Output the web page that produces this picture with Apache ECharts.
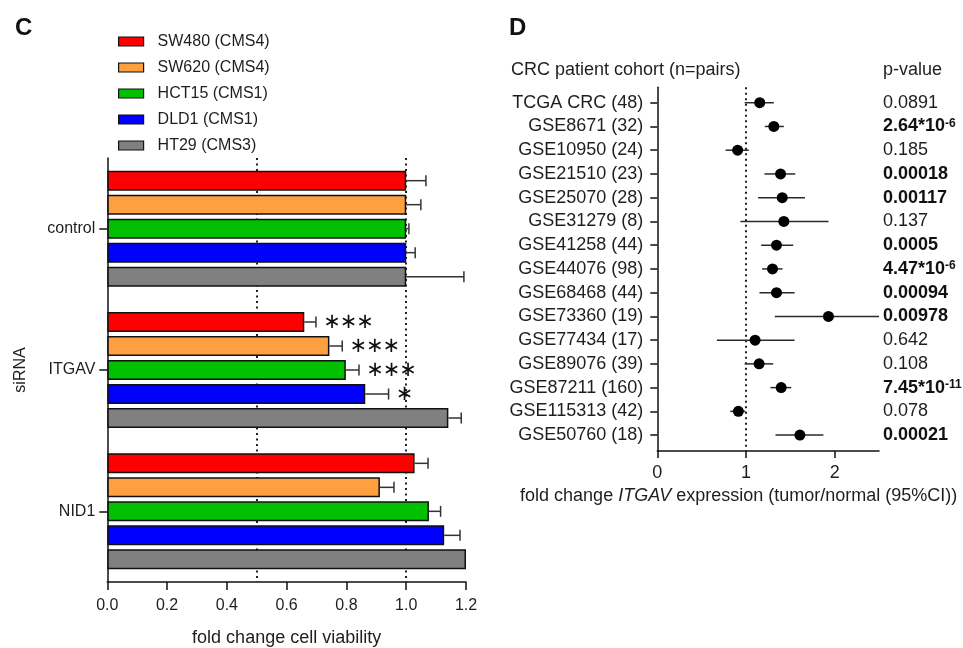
<!DOCTYPE html>
<html>
<head>
<meta charset="utf-8">
<script src="https://cdn.jsdelivr.net/npm/echarts@6/dist/echarts.min.js"></script>
<style>
  html, body { margin: 0; padding: 0; background: #ffffff; }
  #chart { width: 963px; height: 648px; }
</style>
</head>
<body>
<div id="chart"></div>
<script>
// ---- Panel C: cell viability after siRNA knockdown ----
const sirnaGroups = ['control', 'ITGAV', 'NID1'];
const cellLines = ['SW480 (CMS4)', 'SW620 (CMS4)', 'HCT15 (CMS1)', 'DLD1 (CMS1)', 'HT29 (CMS3)'];
const cellColors = ['#ff0000', '#ffa040', '#00c000', '#0000ff', '#808080'];

const viabilitySW480 = [1.0, 0.659, 1.028];
const viabilitySW620 = [1.0, 0.743, 0.912];
const viabilityHCT15 = [1.0, 0.798, 1.076];
const viabilityDLD1 = [1.0, 0.863, 1.127];
const viabilityHT29 = [1.0, 1.141, 1.2];

// upper end of each error bar
const errorTopSW480 = [1.066, 0.698, 1.073];
const errorTopSW620 = [1.049, 0.786, 0.959];
const errorTopHCT15 = [1.009, 0.842, 1.115];
const errorTopDLD1 = [1.030, 0.941, 1.180];
const errorTopHT29 = [1.193, 1.184, null];

// significance versus control
const sigSW480 = ['', '***', ''];
const sigSW620 = ['', '***', ''];
const sigHCT15 = ['', '***', ''];
const sigDLD1 = ['', '*', ''];
const sigHT29 = ['', '', ''];

const viabilityTicks = [0, 0.2, 0.4, 0.6, 0.8, 1.0, 1.2];
const viabilityRefLines = [0.5, 1.0];

// ---- Panel D: ITGAV expression in CRC patient cohorts ----
const cohorts = [
  'TCGA CRC (48)', 'GSE8671 (32)', 'GSE10950 (24)', 'GSE21510 (23)', 'GSE25070 (28)',
  'GSE31279 (8)', 'GSE41258 (44)', 'GSE44076 (98)', 'GSE68468 (44)', 'GSE73360 (19)',
  'GSE77434 (17)', 'GSE89076 (39)', 'GSE87211 (160)', 'GSE115313 (42)', 'GSE50760 (18)'
];
const foldChange = [1.155, 1.314, 0.906, 1.390, 1.409, 1.427, 1.344, 1.299, 1.344, 1.930, 1.103, 1.148, 1.397, 0.914, 1.608];
const ciLower = [0.985, 1.212, 0.770, 1.208, 1.137, 0.937, 1.171, 1.182, 1.152, 1.325, 0.672, 0.985, 1.276, 0.823, 1.333];
const ciUpper = [1.314, 1.427, 1.031, 1.556, 1.665, 1.930, 1.533, 1.412, 1.548, 2.5, 1.548, 1.307, 1.511, 0.993, 1.873];
const pValues = ['0.0891', '2.64*10^-6', '0.185', '0.00018', '0.00117', '0.137', '0.0005', '4.47*10^-6',
  '0.00094', '0.00978', '0.642', '0.108', '7.45*10^-11', '0.078', '0.00021'];
const pSignificant = [false, true, false, true, true, false, true, true, true, true, false, false, true, false, true];

const expressionTicks = [0, 1, 2];
const expressionMax = 2.5;
const expressionRefLine = 1;

// ---- shared styling ----
const FONT = "'Liberation Sans', Arial, Helvetica, sans-serif";
const INK = '#1e1e1e';
const BAR_W = 20;
const BAR_PITCH = 24;
const STAR_PITCH = 16.5;

const viability = [viabilitySW480, viabilitySW620, viabilityHCT15, viabilityDLD1, viabilityHT29];
const errorTop = [errorTopSW480, errorTopSW620, errorTopHCT15, errorTopDLD1, errorTopHT29];
const significance = [sigSW480, sigSW620, sigHCT15, sigDLD1, sigHT29];

function errorBarRenderer(slot) {
  return function (params, api) {
    const top = api.value(1);
    const cat = api.value(2);
    const base = api.coord([api.value(0), cat]);
    const y = base[1] + (slot - (cellLines.length - 1) / 2) * BAR_PITCH;
    const children = [];
    let labelX = base[0];
    if (top != null && !isNaN(top)) {
      const end = api.coord([top, cat]);
      labelX = end[0];
      const st = { stroke: '#333333', lineWidth: 1.5 };
      children.push({ type: 'line', shape: { x1: base[0], y1: y, x2: end[0], y2: y }, style: st });
      children.push({ type: 'line', shape: { x1: end[0], y1: y - 5.5, x2: end[0], y2: y + 5.5 }, style: st });
    }
    const sig = significance[slot][params.dataIndex];
    for (let k = 0; k < sig.length; k++) {
      children.push({
        type: 'text', x: labelX + 16 + k * STAR_PITCH, y: y + 1,
        style: { text: '\u2217', fontSize: 21, fontFamily: "'DejaVu Sans', sans-serif", fill: '#111111', verticalAlign: 'middle', align: 'center' }
      });
    }
    return { type: 'group', children: children };
  };
}

const series = [];
cellLines.forEach(function (name, i) {
  const s = {
    name: name,
    type: 'bar',
    xAxisIndex: 0, yAxisIndex: 0,
    barWidth: BAR_W,
    barGap: ((BAR_PITCH - BAR_W) / BAR_W * 100) + '%',
    data: viability[i],
    itemStyle: { color: cellColors[i], borderColor: '#111111', borderWidth: 1.5 },
    z: 3
  };
  if (i === 0) {
    s.markLine = {
      silent: true, symbol: 'none', z: 1,
      label: { show: false },
      lineStyle: { color: '#222222', type: [2, 3.5], width: 2 },
      data: viabilityRefLines.map(function (v) { return { xAxis: v }; })
    };
  }
  series.push(s);
});
cellLines.forEach(function (name, i) {
  series.push({
    type: 'custom',
    xAxisIndex: 0, yAxisIndex: 0,
    renderItem: errorBarRenderer(i),
    data: viability[i].map(function (v, k) { return [v, errorTop[i][k], k]; }),
    encode: { x: [0, 1], y: 2 },
    silent: true,
    z: 4
  });
});

// Panel D: confidence intervals and point estimates
series.push({
  type: 'custom',
  xAxisIndex: 1, yAxisIndex: 1,
  renderItem: function (params, api) {
    const a = api.coord([api.value(0), api.value(2)]);
    const b = api.coord([api.value(1), api.value(2)]);
    return { type: 'line', shape: { x1: a[0], y1: a[1], x2: b[0], y2: b[1] }, style: { stroke: '#2a2a2a', lineWidth: 1.5 } };
  },
  data: cohorts.map(function (c, k) { return [ciLower[k], ciUpper[k], k]; }),
  encode: { x: [0, 1], y: 2 },
  silent: true,
  z: 3
});
series.push({
  type: 'scatter',
  xAxisIndex: 1, yAxisIndex: 1,
  symbol: 'circle',
  symbolSize: 11,
  itemStyle: { color: '#000000', opacity: 1 },
  data: foldChange.map(function (v, k) { return [v, k]; }),
  silent: true,
  z: 4,
  markLine: {
    silent: true, symbol: 'none', z: 1,
    label: { show: false },
    lineStyle: { color: '#222222', type: [2, 3.5], width: 2 },
    data: [{ xAxis: expressionRefLine }]
  }
});

function formatP(idx) {
  const raw = pValues[idx];
  const st = pSignificant[idx] ? 'b' : 'n';
  if (raw.indexOf('^') >= 0) {
    const parts = raw.split('^');
    return '{' + st + '|' + parts[0] + '}{' + st + 's|' + parts[1] + '}';
  }
  return '{' + st + '|' + raw + '}';
}

const cohortIndex = cohorts.map(function (c, k) { return k; });
const axisLineStyle = { color: '#111111', width: 1.5 };

const option = {
  backgroundColor: '#ffffff',
  animation: false,
  textStyle: { fontFamily: FONT, color: INK },
  title: [
    { text: 'C', left: 15, top: 16, padding: 0, textStyle: { fontFamily: FONT, fontSize: 24, fontWeight: 'bold', color: '#111' } },
    { text: 'D', left: 509, top: 16, padding: 0, textStyle: { fontFamily: FONT, fontSize: 24, fontWeight: 'bold', color: '#111' } },
    { text: 'CRC patient cohort (n=pairs)', left: 511, top: 61, padding: 0, textStyle: { fontFamily: FONT, fontSize: 18, fontWeight: 'normal', color: INK } },
    { text: 'p-value', left: 883, top: 61, padding: 0, textStyle: { fontFamily: FONT, fontSize: 18, fontWeight: 'normal', color: INK } }
  ],
  legend: {
    orient: 'vertical',
    left: 118, top: 33.5,
    padding: 0,
    itemWidth: 25, itemHeight: 9, itemGap: 10,
    icon: 'rect',
    data: cellLines,
    itemStyle: { borderColor: '#111111', borderWidth: 1.2 },
    textStyle: { fontFamily: FONT, fontSize: 16, color: INK, padding: [0, 0, 0, 9] },
    selectedMode: false
  },
  grid: [
    { left: 107.3, right: 497, top: 158, bottom: 66, containLabel: false, outerBoundsMode: 'none' },
    { left: 657.3, right: 84, top: 87.3, bottom: 197, containLabel: false, outerBoundsMode: 'none' }
  ],
  xAxis: [
    {
      gridIndex: 0, type: 'value',
      min: viabilityTicks[0], max: viabilityTicks[viabilityTicks.length - 1],
      interval: viabilityTicks[1] - viabilityTicks[0],
      axisLine: { show: true, onZero: false, lineStyle: axisLineStyle },
      axisTick: { show: true, length: 8, lineStyle: axisLineStyle },
      axisLabel: { fontSize: 16, margin: 16, color: INK, fontFamily: FONT, formatter: function (v) { return v.toFixed(1); } },
      splitLine: { show: false },
      name: 'fold change cell viability',
      nameLocation: 'middle', nameGap: 47,
      nameTextStyle: { fontSize: 18, color: INK, fontFamily: FONT }
    },
    {
      gridIndex: 1, type: 'value',
      min: 0, max: expressionMax,
      axisLine: { show: true, onZero: false, lineStyle: axisLineStyle },
      axisTick: { show: true, length: 7, lineStyle: axisLineStyle, customValues: expressionTicks },
      axisLabel: { fontSize: 18, margin: 13, color: INK, fontFamily: FONT, customValues: expressionTicks },
      splitLine: { show: false },
      name: '{n|fold change }{i|ITGAV}{n| expression (tumor/normal (95%CI))}',
      nameLocation: 'middle', nameGap: 33,
      nameTextStyle: {
        padding: [0, 59, 0, 0],
        rich: {
          n: { fontSize: 18, color: INK, fontFamily: FONT },
          i: { fontSize: 18, color: INK, fontFamily: FONT, fontStyle: 'italic' }
        }
      }
    }
  ],
  yAxis: [
    {
      gridIndex: 0, type: 'category', data: sirnaGroups, inverse: true,
      axisLine: { show: true, onZero: false, lineStyle: axisLineStyle },
      axisTick: { show: true, alignWithLabel: true, length: 8, lineStyle: axisLineStyle },
      axisLabel: { fontSize: 16, margin: 12, color: INK, fontFamily: FONT },
      name: 'siRNA', nameLocation: 'middle', nameGap: 79,
      nameTextStyle: { fontSize: 16, color: INK, fontFamily: FONT }
    },
    {
      gridIndex: 1, type: 'value', inverse: true,
      min: -0.65, max: cohorts.length - 1 + 0.67,
      axisLine: { show: true, onZero: false, lineStyle: axisLineStyle },
      axisTick: { show: true, length: 7, lineStyle: axisLineStyle, customValues: cohortIndex },
      axisLabel: {
        fontSize: 18, margin: 14, color: INK, fontFamily: FONT, customValues: cohortIndex,
        formatter: function (v) { return cohorts[Math.round(v)]; }
      },
      splitLine: { show: false }
    },
    {
      gridIndex: 1, type: 'value', inverse: true, position: 'right',
      min: -0.65, max: cohorts.length - 1 + 0.67,
      axisLine: { show: false, onZero: false },
      axisTick: { show: false },
      splitLine: { show: false },
      axisLabel: {
        margin: 4, align: 'left', customValues: cohortIndex,
        formatter: function (v) { return formatP(Math.round(v)); },
        rich: {
          n: { fontSize: 18, color: INK, fontFamily: FONT },
          b: { fontSize: 18, color: '#111', fontFamily: FONT, fontWeight: 'bold' },
          bs: { fontSize: 12, color: '#111', fontFamily: FONT, fontWeight: 'bold', verticalAlign: 'top', padding: [0, 0, 6, 0] },
          ns: { fontSize: 12, color: INK, fontFamily: FONT, verticalAlign: 'top', padding: [0, 0, 6, 0] }
        }
      }
    }
  ],
  series: series
};

const chart = echarts.init(document.getElementById('chart'), null, { renderer: 'canvas' });
chart.setOption(option);
</script>
</body>
</html>
